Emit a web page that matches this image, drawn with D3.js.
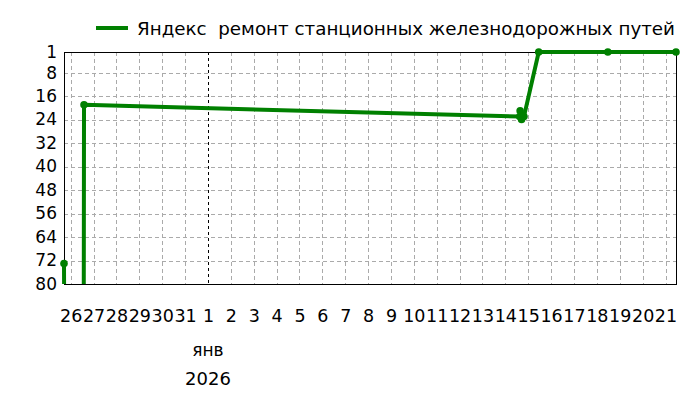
<!DOCTYPE html>
<html>
<head>
<meta charset="utf-8">
<script src="https://cdn.jsdelivr.net/npm/d3@7"></script>
<style>
  body { margin: 0; background: #fff; }
  svg { display: block; font-family: "DejaVu Sans", Verdana, sans-serif; }
</style>
</head>
<body>
<div id="chart"></div>
<script>
// ---- Data -------------------------------------------------------------------
const seriesName = "Яндекс  ремонт станционных железнодорожных путей";
// timestamps (UTC) and positions; 100 = out of top-80 (clipped)
const times = [
  "2025-12-25T17:00", "2025-12-25T17:20", "2025-12-26T13:40",
  "2025-12-26T14:00", "2026-01-14T15:00", "2026-01-14T15:30",
  "2026-01-14T17:00", "2026-01-14T19:30", "2026-01-15T11:00",
  "2026-01-18T11:30", "2026-01-21T11:00"
];
const ranks = [73, 100, 100, 19, 23, 21, 24, 23, 1, 1, 1];
const yTicks = [1, 8, 16, 24, 32, 40, 48, 56, 64, 72, 80];
const monthLabel = "янв";
const yearLabel = "2026";
const xStart = "2025-12-25T17:00";
const xEnd = "2026-01-21T11:00";

// ---- Layout -----------------------------------------------------------------
const width = 700, height = 400;
const mLeft = 64, mRight = 676, mTop = 52, mBottom = 284;
const green = "#008000";

const parse = d3.utcParse("%Y-%m-%dT%H:%M");
const data = times.map((t, i) => ({ date: parse(t), rank: ranks[i] }));

const svg = d3.select("#chart").append("svg")
  .attr("width", width).attr("height", height);

const x = d3.scaleUtc().domain([parse(xStart), parse(xEnd)]).range([mLeft, mRight]);
const y = d3.scaleLinear().domain([1, 80]).range([mTop, mBottom]);

const days = d3.utcDay.range(d3.utcDay.ceil(x.domain()[0]), x.domain()[1], 1);
const isNewYear = (d) => d.getUTCMonth() === 0 && d.getUTCDate() === 1;

// grid
svg.append("g")
  .selectAll("line")
  .data(yTicks.slice(1, -1))
  .join("line")
  .attr("x1", mLeft).attr("x2", mRight)
  .attr("y1", d => Math.round(y(d)) + 0.5).attr("y2", d => Math.round(y(d)) + 0.5)
  .attr("stroke", "#aaa").attr("stroke-dasharray", "4,3");

svg.append("g")
  .selectAll("line")
  .data(days)
  .join("line")
  .attr("x1", d => Math.round(x(d)) + 0.5).attr("x2", d => Math.round(x(d)) + 0.5)
  .attr("y1", mTop).attr("y2", mBottom)
  .attr("stroke", d => isNewYear(d) ? "#000" : "#aaa")
  .attr("stroke-dasharray", d => isNewYear(d) ? "3,3" : "4,3");

// frame
svg.append("rect")
  .attr("x", mLeft + 0.5).attr("y", mTop + 0.5)
  .attr("width", mRight - mLeft).attr("height", mBottom - mTop)
  .attr("fill", "none").attr("stroke", "#000");

// y axis labels
const yAxis = d3.axisLeft(y).tickValues(yTicks).tickSize(0).tickPadding(7);
const gy = svg.append("g").attr("transform", `translate(${mLeft},0)`).call(yAxis);
gy.select(".domain").remove();
gy.selectAll("text")
  .attr("font-size", 17).attr("font-family", "DejaVu Sans").attr("fill", "#000");

// x axis labels
const xAxis = d3.axisBottom(x).tickValues(days).tickSize(0).tickPadding(0)
  .tickFormat(d3.utcFormat("%-d"));
const gx = svg.append("g").attr("transform", `translate(0,${mBottom})`).call(xAxis);
gx.select(".domain").remove();
gx.selectAll("text")
  .attr("font-size", 17.5).attr("font-family", "DejaVu Sans").attr("fill", "#000")
  .attr("dy", null).attr("y", 38);

const jan1 = days.find(isNewYear);
svg.append("text").attr("x", x(jan1)).attr("y", 356)
  .attr("text-anchor", "middle").attr("font-size", 17).text(monthLabel);
svg.append("text").attr("x", x(jan1)).attr("y", 385)
  .attr("text-anchor", "middle").attr("font-size", 18).text(yearLabel);

// series
svg.append("clipPath").attr("id", "plot-clip")
  .append("rect").attr("x", mLeft - 6).attr("y", mTop - 6)
  .attr("width", mRight - mLeft + 12).attr("height", mBottom - mTop + 6);

const line = d3.line().x(d => x(d.date)).y(d => y(d.rank));
const series = svg.append("g").attr("clip-path", "url(#plot-clip)");
series.append("path")
  .attr("d", line(data))
  .attr("fill", "none").attr("stroke", green)
  .attr("stroke-width", 4).attr("stroke-linejoin", "round");

series.selectAll("circle")
  .data(data.filter(d => d.rank <= 80))
  .join("circle")
  .attr("cx", d => x(d.date)).attr("cy", d => y(d.rank))
  .attr("r", 3.8).attr("fill", green);

// legend
svg.append("line")
  .attr("x1", 96).attr("x2", 128).attr("y1", 28).attr("y2", 28)
  .attr("stroke", green).attr("stroke-width", 4);
svg.append("text").attr("x", 137).attr("y", 35)
  .attr("font-size", 18.3).style("white-space", "pre")
  .text(seriesName);
</script>
</body>
</html>
